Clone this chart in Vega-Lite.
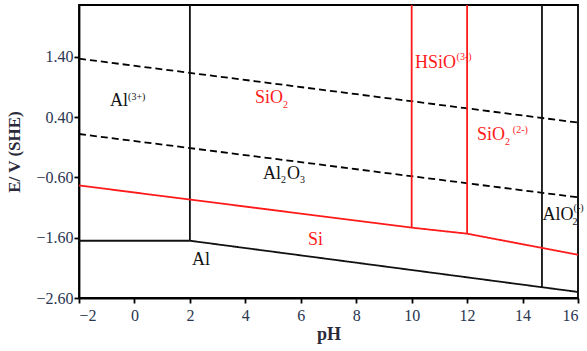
{
  "$schema": "https://vega.github.io/schema/vega-lite/v6.json",
  "width": 499,
  "height": 293,
  "autosize": {"type": "none"},
  "padding": {"left": 79, "top": 5, "right": 9, "bottom": 53},
  "background": "white",
  "config": {
    "view": {"stroke": "black", "strokeWidth": 1.8},
    "font": "'Liberation Serif', 'DejaVu Serif', serif",
    "text": {"font": "'Liberation Serif', 'DejaVu Serif', serif"},
    "axis": {
      "grid": false,
      "domainColor": "black",
      "domainWidth": 1.8,
      "tickColor": "black",
      "tickWidth": 1.8,
      "tickSize": 5,
      "labelFont": "'Liberation Serif', 'DejaVu Serif', serif",
      "labelFontSize": 16,
      "labelColor": "#2a3550",
      "titleFont": "'Liberation Serif', 'DejaVu Serif', serif",
      "titleFontWeight": "bold",
      "titleColor": "#2a2a3a"
    }
  },
  "datasets": {
    "lines": [
      {"kind": "dash", "seg": "o2", "i": 0, "pH": -2, "E": 1.37},
      {"kind": "dash", "seg": "o2", "i": 1, "pH": 16, "E": 0.31},
      {"kind": "dash", "seg": "h2", "i": 0, "pH": -2, "E": 0.12},
      {"kind": "dash", "seg": "h2", "i": 1, "pH": 16, "E": -0.93},
      {"kind": "al", "seg": "v2", "i": 0, "pH": 2, "E": 2.26},
      {"kind": "al", "seg": "v2", "i": 1, "pH": 2, "E": -1.65},
      {"kind": "al", "seg": "h", "i": 0, "pH": -2, "E": -1.65},
      {"kind": "al", "seg": "h", "i": 1, "pH": 2, "E": -1.65},
      {"kind": "al", "seg": "s", "i": 0, "pH": 2, "E": -1.65},
      {"kind": "al", "seg": "s", "i": 1, "pH": 16, "E": -2.5},
      {"kind": "al", "seg": "v147", "i": 0, "pH": 14.7, "E": 2.26},
      {"kind": "al", "seg": "v147", "i": 1, "pH": 14.7, "E": -2.42},
      {"kind": "si", "seg": "si", "i": 0, "pH": -2, "E": -0.733},
      {"kind": "si", "seg": "si", "i": 1, "pH": 2, "E": -0.967},
      {"kind": "si", "seg": "si", "i": 2, "pH": 10, "E": -1.433},
      {"kind": "si", "seg": "si", "i": 3, "pH": 12, "E": -1.533},
      {"kind": "si", "seg": "si", "i": 4, "pH": 16, "E": -1.883},
      {"kind": "si", "seg": "v10", "i": 0, "pH": 10, "E": 2.26},
      {"kind": "si", "seg": "v10", "i": 1, "pH": 10, "E": -1.433},
      {"kind": "si", "seg": "v12", "i": 0, "pH": 12, "E": 2.26},
      {"kind": "si", "seg": "v12", "i": 1, "pH": 12, "E": -1.533}
    ],
    "labels": [
      {"kind": "al", "text": "Al", "pH": -0.88, "E": 0.585},
      {"kind": "si", "text": "SiO", "pH": 4.35, "E": 0.635},
      {"kind": "al", "text": "Al", "pH": 4.64, "E": -0.626},
      {"kind": "al", "text": "O", "pH": 5.5, "E": -0.626},
      {"kind": "si", "text": "HSiO", "pH": 10.12, "E": 1.215},
      {"kind": "si", "text": "SiO", "pH": 12.36, "E": 0.021},
      {"kind": "al", "text": "AlO", "pH": 14.72, "E": -1.305},
      {"kind": "si", "text": "Si", "pH": 6.26, "E": -1.72},
      {"kind": "al", "text": "Al", "pH": 2.08, "E": -2.05}
    ],
    "small": [
      {"kind": "al", "text": "(3+)", "pH": -0.23, "E": 0.685},
      {"kind": "si", "text": "2", "pH": 5.36, "E": 0.552},
      {"kind": "al", "text": "2", "pH": 5.29, "E": -0.692},
      {"kind": "al", "text": "3", "pH": 5.97, "E": -0.692},
      {"kind": "si", "text": "(3-)", "pH": 11.62, "E": 1.348},
      {"kind": "si", "text": "2", "pH": 13.37, "E": -0.062},
      {"kind": "si", "text": "(2-)", "pH": 13.65, "E": 0.137},
      {"kind": "al", "text": "2", "pH": 15.8, "E": -1.388},
      {"kind": "al", "text": "(-)", "pH": 15.84, "E": -1.15}
    ]
  },
  "encoding": {
    "x": {
      "field": "pH",
      "type": "quantitative",
      "scale": {"domain": [-2, 16], "nice": false, "zero": false},
      "axis": {"values": [-2, 0, 2, 4, 6, 8, 10, 12, 14, 16], "title": "pH", "titleFontSize": 18, "labelPadding": 4, "titlePadding": 2}
    },
    "y": {
      "field": "E",
      "type": "quantitative",
      "scale": {"domain": [-2.6, 2.26], "nice": false, "zero": false},
      "axis": {"values": [-2.6, -1.6, -0.6, 0.4, 1.4], "format": ".2f", "title": "E/ V (SHE)", "titleFontSize": 17, "labelPadding": 1, "titlePadding": 12}
    },
    "color": {
      "field": "kind",
      "type": "nominal",
      "scale": {"domain": ["dash", "al", "si"], "range": ["#000000", "#111111", "#ff1a1a"]},
      "legend": null
    }
  },
  "layer": [
    {
      "data": {"name": "lines"},
      "mark": {"type": "line", "strokeWidth": 1.8},
      "encoding": {
        "detail": {"field": "seg"},
        "order": {"field": "i"},
        "strokeDash": {
          "field": "kind",
          "type": "nominal",
          "scale": {"domain": ["dash", "al", "si"], "range": [[7, 4], [1, 0], [1, 0]]},
          "legend": null
        }
      }
    },
    {
      "data": {"name": "labels"},
      "mark": {"type": "text", "align": "left", "baseline": "alphabetic", "fontSize": 18, "font": "'Liberation Serif', 'DejaVu Serif', serif"},
      "encoding": {"text": {"field": "text"}}
    },
    {
      "data": {"name": "small"},
      "mark": {"type": "text", "align": "left", "baseline": "alphabetic", "fontSize": 10, "font": "'Liberation Serif', 'DejaVu Serif', serif"},
      "encoding": {"text": {"field": "text"}}
    }
  ]
}
